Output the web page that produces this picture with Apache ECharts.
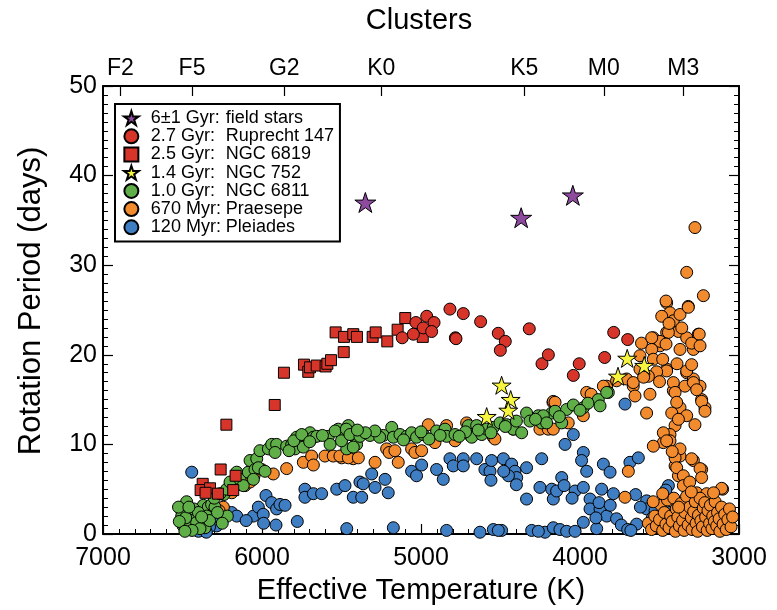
<!DOCTYPE html>
<html>
<head>
<meta charset="utf-8">
<script src="https://cdn.jsdelivr.net/npm/echarts@6/dist/echarts.min.js"></script>
<style>
  html, body { margin: 0; padding: 0; background: #fff; }
  #chart { width: 777px; height: 610px; }
</style>
</head>
<body>
<div id="chart"></div>
<script>
// Rotation period vs. effective temperature for stars in clusters of different ages.

// Legend text: age column and cluster name column
const legendAges = ['6\u00b11 Gyr:', '2.7 Gyr:', '2.5 Gyr:', '1.4 Gyr:', '1.0 Gyr:', '670 Myr:', '120 Myr:'];
const legendNames = ['field stars', 'Ruprecht 147', 'NGC 6819', 'NGC 752', 'NGC 6811', 'Praesepe', 'Pleiades'];

// Spectral types on the top axis and their effective temperatures (K)
const spectralTypes = ['F2', 'F5', 'G2', 'K0', 'K5', 'M0', 'M3'];
const spectralTeff = [6890, 6440, 5860, 5250, 4350, 3850, 3350];

// Bottom and left axis tick labels
const teffTicks = [7000, 6000, 5000, 4000, 3000];
const periodTicks = [0, 10, 20, 30, 40, 50];

// [Teff (K), rotation period (days)]
const fieldStars = [[5350, 37.0], [4370, 35.3], [4045, 37.8]];

const ruprecht147 = [
  [5032, 23.6], [4964, 24.3], [4918, 23.6], [4986, 23.0], [4933, 22.6], [5118, 21.9], [5048, 22.3],
  [4818, 25.1], [4784, 21.9], [4734, 24.6], [4625, 23.7], [4514, 22.4], [4470, 21.5], [4501, 20.5],
  [4319, 22.9], [4239, 19.0], [4199, 20.0], [4042, 17.7], [4005, 19.0], [3845, 19.7], [3788, 22.5],
  [3700, 21.7], [4780, 21.8]
];

const ngc6819 = [
  [6224, 12.2], [5920, 14.4], [5862, 18.0], [5736, 18.9], [5709, 18.1], [5698, 18.6], [5656, 18.8],
  [5600, 18.7], [5589, 19.0], [5566, 19.4], [5486, 20.3], [5537, 22.5], [5484, 22.0], [5426, 22.3],
  [5403, 22.0], [5304, 22.0], [5285, 22.5], [5212, 21.5], [5147, 22.8], [5099, 24.1], [4989, 22.0],
  [6260, 7.2], [6373, 5.6], [6386, 4.9], [6327, 5.1], [6277, 4.5], [6166, 6.5], [6181, 4.9], [6355, 4.6]
];

const ngc752 = [
  [4493, 16.6], [4436, 15.0], [4451, 13.8], [4587, 13.1], [3703, 19.6], [3596, 18.8], [3761, 17.6]
];

const ngc6811 = [
  [6474, 3.6], [6505, 2.6], [6505, 2.0], [6495, 0.9], [6453, 2.2], [6442, 1.5], [6464, 0.9], [6411, 1.3],
  [6358, 0.7], [6369, 3.2], [6338, 3.0], [6348, 2.0], [6317, 3.3], [6296, 3.0], [6218, 2.0], [6480, 1.8],
  [6520, 1.4], [6430, 2.8], [6400, 2.4], [6390, 0.6], [6440, 0.4], [6485, 0.3], [6330, 1.5], [6280, 2.4],
  [6250, 1.2], [6525, 3.0], [6460, 3.0], [6380, 1.9], [6300, 4.0], [6240, 4.4],
  [6264, 4.5], [6222, 5.0], [6201, 5.8], [6159, 6.9], [6138, 6.1], [6118, 5.4], [6086, 6.9], [6075, 8.2],
  [6033, 8.4], [6044, 7.2], [6054, 6.1], [6013, 9.3], [6023, 7.4], [5981, 7.0], [5960, 9.5], [5939, 10.0],
  [5908, 10.0], [5918, 9.1], [5845, 9.8], [5813, 10.0], [5792, 9.5], [5782, 10.8], [5761, 10.4], [5740, 9.7],
  [5719, 10.9], [5698, 11.3], [5677, 10.8], [5656, 10.9], [5583, 10.9], [5572, 10.0], [5520, 11.7], [5489, 11.1],
  [5457, 12.1], [5436, 11.3], [5415, 10.8], [5467, 9.5], [5405, 10.0], [5830, 9.3], [5800, 10.4], [5750, 11.1],
  [5700, 10.3], [5620, 11.0], [5540, 11.5], [5500, 10.4], [5470, 11.7],
  [5447, 11.1], [5426, 9.7], [5384, 10.9], [5321, 11.0], [5237, 11.0], [5184, 11.9], [5174, 10.8], [5132, 11.1],
  [5090, 10.9], [5059, 11.3], [5028, 10.8], [4986, 11.1], [4902, 11.5], [4849, 11.7], [4839, 10.9], [4786, 11.1],
  [4702, 12.1], [4681, 10.8], [4650, 12.1], [4618, 11.1], [4587, 11.7], [4545, 11.9], [4503, 12.4], [4461, 12.2],
  [4420, 11.7], [4367, 11.3], [4336, 13.5], [4315, 12.6], [4262, 13.2], [4241, 12.4], [4178, 13.5], [4231, 13.2],
  [4210, 12.4], [4157, 13.7], [4115, 12.4], [4084, 13.9], [4042, 14.4], [3979, 14.1], [3885, 15.0], [3874, 14.3],
  [3822, 15.8], [3832, 15.8], [3950, 14.6], [4000, 13.8], [4130, 13.1], [4280, 12.8], [4400, 12.6], [4470, 12.0],
  [4560, 11.3], [4640, 11.6], [4720, 11.4], [4760, 10.9], [4880, 11.0], [4950, 10.6], [5000, 11.4], [5110, 10.5],
  [5260, 10.8], [5290, 11.5], [5350, 11.3], [5400, 11.6]
];

const praesepe = [
  [6243, 3.0], [6270, 2.6], [6107, 5.4], [6075, 5.8], [6002, 7.2], [5929, 6.7], [5845, 7.3], [5740, 8.0],
  [5688, 8.7], [5677, 7.7], [5604, 8.7], [5552, 8.7], [5499, 8.5], [5470, 8.7], [5426, 8.4], [5510, 8.7],
  [5457, 8.5], [5394, 8.5], [5289, 8.0], [5216, 9.5], [5200, 9.1], [5143, 8.0], [5164, 9.3], [5059, 9.5],
  [5038, 9.1], [4996, 9.3], [4954, 12.2], [4912, 10.2], [4839, 12.1], [4786, 10.4], [4713, 12.4], [4690, 11.0],
  [4545, 10.8], [4535, 10.6], [4420, 11.7], [4252, 11.7], [4200, 11.7], [4170, 14.7], [4168, 14.8], [4074, 12.4],
  [3958, 15.8], [3930, 15.6], [3832, 16.5], [3853, 16.5], [3770, 17.1], [3707, 17.3], [3665, 16.5], [3623, 18.4],
  [3560, 15.6], [3581, 13.5], [3654, 15.4], [3979, 13.2], [4157, 14.7], [4168, 11.7], [6150, 5.5], [6050, 6.5],
  [6190, 4.6],
  [3613, 21.3], [3539, 21.9], [3497, 21.0], [3455, 25.8], [3434, 24.7], [3413, 23.8], [3371, 24.5], [3319, 25.4],
  [3224, 26.6], [3455, 22.5], [3381, 22.6], [3329, 21.9], [3256, 22.3], [3287, 20.6], [3371, 20.6], [3455, 18.4],
  [3329, 18.0], [3287, 17.3], [3245, 16.5], [3340, 16.5], [3413, 16.0], [3277, 34.2], [3329, 29.2], [3459, 26.0],
  [3319, 25.3], [3486, 24.3], [3444, 22.5], [3497, 21.5], [3549, 21.9], [3459, 21.2], [3250, 22.3], [3298, 21.3],
  [3245, 21.0], [3549, 20.6], [3623, 19.9], [3539, 19.5], [3455, 18.2], [3518, 18.1], [3570, 17.6], [3665, 16.9],
  [3329, 18.2], [3298, 18.9], [3413, 16.9], [3287, 16.9], [3600, 17.5], [3500, 17.0], [3480, 19.5], [3390, 19.0],
  [3440, 23.5], [3360, 23.0],
  [3371, 14.1], [3329, 13.2], [3235, 15.0], [3214, 14.1], [3277, 12.2], [3402, 12.1], [3434, 11.1], [3476, 10.2],
  [3539, 9.8], [3434, 10.4], [3371, 8.7], [3402, 7.6], [3287, 8.2], [3235, 7.2], [3381, 6.5], [3329, 5.4],
  [3266, 4.6], [3203, 4.3], [3103, 5.0], [3696, 7.0], [3717, 4.1], [3402, 15.8], [3392, 14.7], [3266, 16.1],
  [3235, 14.8], [3214, 13.7], [3423, 13.5], [3381, 12.8], [3476, 11.3], [3455, 10.4], [3371, 9.5], [3402, 8.5],
  [3298, 8.4], [3392, 7.4], [3245, 7.3], [3350, 6.5], [3235, 6.3], [3109, 5.1], [3350, 5.4], [3203, 4.5],
  [3310, 5.8], [3420, 9.2],
  [3570, 1.2], [3550, 0.5], [3530, 2.0], [3520, 0.9], [3500, 1.6], [3490, 3.2], [3480, 0.4], [3470, 2.4],
  [3460, 1.1], [3450, 3.8], [3440, 0.7], [3430, 2.0], [3420, 1.4], [3410, 4.0], [3400, 0.3], [3395, 2.8],
  [3385, 1.9], [3375, 0.9], [3365, 3.4], [3355, 1.5], [3345, 0.4], [3340, 2.4], [3330, 4.2], [3320, 1.0],
  [3310, 3.0], [3300, 1.8], [3295, 0.5], [3285, 2.5], [3275, 3.6], [3270, 1.2], [3260, 0.3], [3255, 2.1],
  [3245, 4.0], [3240, 1.5], [3230, 0.8], [3225, 2.9], [3215, 3.5], [3210, 1.9], [3200, 0.4], [3195, 2.6],
  [3185, 1.2], [3180, 3.2], [3170, 0.6], [3165, 2.0], [3155, 1.4], [3150, 3.6], [3140, 0.9], [3135, 2.4],
  [3125, 1.7], [3120, 0.3], [3110, 3.0], [3100, 1.1], [3090, 2.2], [3080, 0.5], [3070, 1.6], [3060, 2.8],
  [3050, 0.8], [3040, 1.9], [3160, 4.6], [3300, 4.7], [3380, 3.0], [3480, 4.5], [3540, 3.6]
];

const pleiades = [
  [6442, 6.9], [6495, 0.9], [6285, 0.9], [6306, 1.9], [6191, 2.4], [6159, 2.0], [6054, 2.0], [6023, 3.0],
  [5992, 2.2], [5975, 4.3], [5939, 3.5], [5908, 2.8], [5887, 3.3], [5855, 3.2], [5912, 1.0], [5778, 1.4],
  [5730, 5.0], [5730, 4.1], [5677, 4.5], [5625, 4.5], [5530, 5.0], [5478, 5.4], [5426, 4.1], [5467, 0.6],
  [5384, 5.8], [5373, 4.1], [5363, 5.6], [5310, 6.7], [5289, 5.2], [5226, 6.1], [5206, 4.6], [5174, 0.7],
  [5059, 7.0], [5028, 6.5], [4996, 7.7], [4902, 7.2], [4860, 6.1], [4818, 8.4], [4797, 7.6], [4734, 8.4],
  [4734, 7.6], [4839, 0.4], [4650, 8.4], [4598, 7.2], [4566, 7.0], [4556, 8.2], [4482, 8.4], [4430, 7.8],
  [4409, 7.0], [4398, 6.3], [4336, 7.4], [4241, 8.4], [4252, 5.2], [4178, 5.0], [4168, 3.9], [4336, 3.9],
  [4629, 0.2], [4545, 0.5], [4493, 0.4], [4304, 0.4], [4220, 0.2], [4168, 0.7], [4042, 11.1], [4094, 10.0],
  [3979, 9.1], [3990, 8.2], [3958, 7.0], [3853, 7.8], [3811, 6.9], [3686, 8.0], [3633, 8.5], [3717, 14.5],
  [4115, 6.3], [4031, 4.8], [3979, 5.2], [3937, 3.9], [3864, 5.0], [3790, 4.5], [3937, 2.8], [3874, 2.8],
  [3832, 2.0], [3770, 1.7], [3979, 1.3], [3895, 0.6], [3644, 1.1], [3581, 3.7], [3581, 2.8], [3528, 2.6],
  [3444, 5.4], [3455, 4.3], [3434, 2.4], [3350, 2.4], [3078, 2.6], [3120, 0.8], [4514, 0.4], [4262, 0.3],
  [4126, 0.5], [4084, 0.3], [4031, 0.3], [4400, 5.5], [4450, 6.5], [4560, 6.0], [4480, 7.0], [6380, 0.4],
  [6330, 0.8], [6250, 2.8], [6100, 1.5], [5990, 1.2], [3740, 1.0], [3700, 0.5], [3500, 0.6], [3300, 0.6],
  [3200, 1.6], [3050, 2.0], [3620, 3.0], [3680, 0.4], [3380, 1.5], [3250, 2.0], [3150, 1.5], [4147, 4.8],
  [4100, 5.4], [4050, 4.0], [3880, 3.5], [3810, 3.2], [3900, 1.8], [3650, 4.4], [3545, 1.8], [3460, 4.9],
  [3420, 1.8], [3330, 1.2], [3280, 0.9], [3100, 2.1], [3070, 0.9], [6440, 0.5], [6400, 0.3], [6350, 0.2]
];

const FONT = 'Liberation Sans, Arial, Helvetica, sans-serif';
const STAR = 'path://M50 0 L61.2 34.5 L97.6 34.5 L68.2 55.9 L79.4 90.5 L50 69.1 L20.6 90.5 L31.8 55.9 L2.4 34.5 L38.8 34.5 Z';
const SQUARE = 'path://M0 0 L10 0 L10 10 L0 10 Z';

const colors = {
  field: '#8d4a9f',
  rup: '#d8352a',
  ngc6819: '#d8352a',
  ngc752: '#f7f53e',
  ngc6811: '#5fae47',
  praesepe: '#f28a2e',
  pleiades: '#3f7ec2'
};

// legend icon for each row
const legendIcons = [STAR, 'circle', SQUARE, STAR, 'circle', 'circle', 'circle'];

const seriesName = i => legendAges[i] + ' ' + legendNames[i];

function scatter(i, data, color, symbol, size) {
  return {
    type: 'scatter',
    name: seriesName(i),
    data: data,
    symbol: symbol,
    symbolSize: size,
    symbolKeepAspect: true,
    itemStyle: { color: color, borderColor: '#000', borderWidth: 1, opacity: 1 },
    emphasis: { disabled: true },
    xAxisIndex: 0,
    yAxisIndex: 0,
    z: 2 + (6 - i)
  };
}

const chart = echarts.init(document.getElementById('chart'), null, { renderer: 'canvas' });

const axisLineStyle = { color: '#000', width: 2 };

chart.setOption({
  animation: false,
  backgroundColor: '#fff',
  textStyle: { fontFamily: FONT, color: '#000' },
  title: {
    text: 'Clusters',
    left: 414,
    top: 1,
    textAlign: 'center',
    textStyle: { fontFamily: FONT, fontSize: 29, fontWeight: 'normal', color: '#000' }
  },
  grid: { left: 103, right: 38, top: 86, bottom: 75, containLabel: false },
  legend: {
    orient: 'vertical',
    left: 115,
    top: 104,
    data: legendAges.map((a, i) => ({ name: seriesName(i), icon: legendIcons[i] })),
    backgroundColor: '#fff',
    borderColor: '#000',
    borderWidth: 2,
    borderRadius: 0,
    padding: [5, 6, 5, 8],
    itemGap: 0,
    itemWidth: 25,
    itemHeight: 14,
    symbolKeepAspect: true,
    selectedMode: false,
    formatter: name => {
      const i = legendAges.findIndex((a, k) => seriesName(k) === name);
      return '{a|' + legendAges[i] + '}{b|' + legendNames[i] + '}';
    },
    textStyle: {
      fontFamily: FONT,
      fontSize: 18,
      color: '#000',
      lineHeight: 18.2,
      padding: [0, 0, 0, 2],
      rich: {
        a: { width: 75, fontFamily: FONT, fontSize: 18, color: '#000', lineHeight: 18.2 },
        b: { fontFamily: FONT, fontSize: 18, color: '#000', lineHeight: 18.2 }
      }
    },
    z: 20
  },
  xAxis: [
    {
      type: 'value',
      position: 'bottom',
      min: 3000,
      max: 7000,
      interval: 1000,
      inverse: true,
      name: 'Effective Temperature (K)',
      nameLocation: 'middle',
      nameGap: 42,
      nameTextStyle: { fontFamily: FONT, fontSize: 29, color: '#000' },
      axisLine: { show: true, onZero: false, lineStyle: axisLineStyle },
      axisTick: { show: true, inside: true, length: 10, lineStyle: { color: '#000', width: 1.2 } },
      minorTick: { show: true, splitNumber: 10, length: 5, lineStyle: { color: '#000', width: 1 } },
      axisLabel: {
        fontFamily: FONT, fontSize: 25, color: '#000', margin: 12,
        customValues: teffTicks,
        formatter: v => String(v)
      },
      splitLine: { show: false },
      minorSplitLine: { show: false }
    },
    {
      type: 'value',
      position: 'top',
      min: 3000,
      max: 7000,
      inverse: true,
      axisLine: { show: true, onZero: false, lineStyle: axisLineStyle },
      axisTick: {
        show: true, inside: true, length: 10,
        customValues: spectralTeff,
        lineStyle: { color: '#000', width: 1.2 }
      },
      axisLabel: {
        fontFamily: FONT, fontSize: 23, color: '#000', margin: 6,
        customValues: spectralTeff,
        formatter: v => spectralTypes[spectralTeff.indexOf(v)] || ''
      },
      splitLine: { show: false }
    }
  ],
  yAxis: [
    {
      type: 'value',
      position: 'left',
      min: 0,
      max: 50,
      interval: 10,
      name: 'Rotation Period (days)',
      nameLocation: 'middle',
      nameRotate: 90,
      nameGap: 56,
      nameTextStyle: { fontFamily: FONT, fontSize: 31, color: '#000', padding: [0, 0, 0, 18] },
      axisLine: { show: true, onZero: false, lineStyle: axisLineStyle },
      axisTick: { show: true, inside: true, length: 10, lineStyle: { color: '#000', width: 1.2 } },
      minorTick: { show: true, splitNumber: 10, length: 5, lineStyle: { color: '#000', width: 1 } },
      axisLabel: {
        fontFamily: FONT, fontSize: 25, color: '#000', margin: 6,
        customValues: periodTicks,
        formatter: v => String(v)
      },
      splitLine: { show: false }
    },
    {
      type: 'value',
      position: 'right',
      min: 0,
      max: 50,
      interval: 10,
      axisLine: { show: true, onZero: false, lineStyle: axisLineStyle },
      axisTick: { show: true, inside: true, length: 10, lineStyle: { color: '#000', width: 1.2 } },
      minorTick: { show: true, splitNumber: 10, length: 5, lineStyle: { color: '#000', width: 1 } },
      axisLabel: { show: false },
      splitLine: { show: false }
    }
  ],
  series: [
    scatter(6, pleiades, colors.pleiades, 'circle', 12),
    scatter(5, praesepe, colors.praesepe, 'circle', 12),
    scatter(4, ngc6811, colors.ngc6811, 'circle', 12),
    scatter(3, ngc752, colors.ngc752, STAR, 19),
    scatter(2, ngc6819, colors.ngc6819, SQUARE, 11),
    scatter(1, ruprecht147, colors.rup, 'circle', 12),
    scatter(0, fieldStars, colors.field, STAR, 21)
  ]
});
</script>
</body>
</html>
